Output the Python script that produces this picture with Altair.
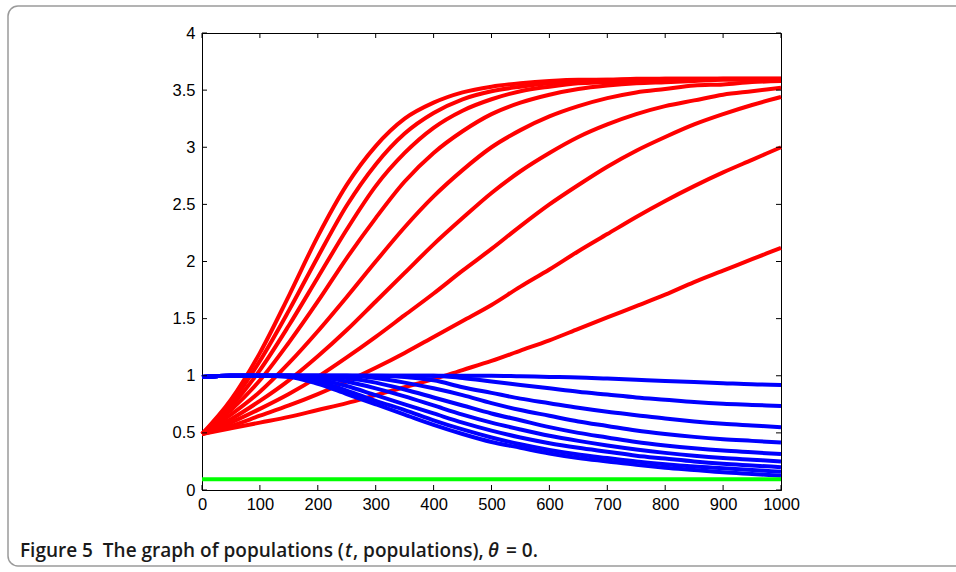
import altair as alt
import pandas as pd

# sample times
T = [0, 50, 100, 150, 200, 250, 300, 350, 400, 450, 500,
     550, 600, 650, 700, 750, 800, 850, 900, 950, 1000]

# red populations
RED = {
    "R1": [0.49, 0.79, 1.20, 1.70, 2.22, 2.67, 3.01, 3.25, 3.39, 3.48, 3.53, 3.56, 3.58, 3.59, 3.59, 3.60, 3.60, 3.60, 3.60, 3.60, 3.60],
    "R2": [0.49, 0.76, 1.13, 1.57, 2.04, 2.49, 2.85, 3.12, 3.30, 3.42, 3.49, 3.53, 3.56, 3.58, 3.59, 3.59, 3.60, 3.60, 3.60, 3.60, 3.60],
    "R3": [0.49, 0.73, 1.05, 1.44, 1.86, 2.28, 2.66, 2.95, 3.17, 3.32, 3.42, 3.49, 3.53, 3.56, 3.57, 3.58, 3.59, 3.59, 3.60, 3.60, 3.60],
    "R4": [0.49, 0.70, 0.96, 1.29, 1.65, 2.03, 2.38, 2.70, 2.95, 3.14, 3.29, 3.39, 3.46, 3.51, 3.54, 3.56, 3.57, 3.58, 3.59, 3.59, 3.59],
    "R5": [0.49, 0.66, 0.86, 1.11, 1.39, 1.69, 2.00, 2.30, 2.57, 2.80, 3.00, 3.15, 3.27, 3.36, 3.43, 3.48, 3.51, 3.54, 3.55, 3.57, 3.58],
    "R6": [0.49, 0.62, 0.78, 0.96, 1.17, 1.40, 1.65, 1.90, 2.15, 2.38, 2.60, 2.79, 2.95, 3.09, 3.20, 3.29, 3.36, 3.41, 3.46, 3.49, 3.52],
    "R7": [0.49, 0.59, 0.71, 0.84, 0.99, 1.16, 1.34, 1.53, 1.72, 1.92, 2.11, 2.31, 2.50, 2.67, 2.83, 2.97, 3.09, 3.20, 3.29, 3.37, 3.44],
    "R8": [0.49, 0.56, 0.65, 0.74, 0.84, 0.95, 1.07, 1.20, 1.34, 1.48, 1.62, 1.78, 1.93, 2.09, 2.24, 2.39, 2.53, 2.66, 2.78, 2.89, 3.00],
    "R9": [0.49, 0.54, 0.59, 0.64, 0.70, 0.76, 0.83, 0.90, 0.97, 1.05, 1.13, 1.22, 1.31, 1.41, 1.51, 1.61, 1.71, 1.82, 1.92, 2.02, 2.12],
}

# blue populations
BLUE = {
    "B1": [0.99, 1.00, 1.00, 0.99, 0.93, 0.84, 0.75, 0.66, 0.57, 0.49, 0.42, 0.37, 0.32, 0.28, 0.25, 0.22, 0.195, 0.175, 0.155, 0.14, 0.125],
    "B2": [0.99, 1.00, 1.00, 1.00, 0.95, 0.87, 0.78, 0.70, 0.61, 0.53, 0.46, 0.40, 0.35, 0.31, 0.28, 0.25, 0.225, 0.205, 0.19, 0.175, 0.16],
    "B3": [0.99, 1.00, 1.00, 1.00, 0.97, 0.91, 0.83, 0.75, 0.67, 0.59, 0.52, 0.46, 0.41, 0.37, 0.335, 0.30, 0.275, 0.25, 0.23, 0.215, 0.20],
    "B4": [0.99, 1.00, 1.00, 1.00, 0.99, 0.95, 0.89, 0.82, 0.74, 0.66, 0.59, 0.53, 0.475, 0.43, 0.39, 0.355, 0.325, 0.30, 0.28, 0.265, 0.25],
    "B5": [0.99, 1.00, 1.00, 1.00, 1.00, 0.98, 0.94, 0.88, 0.81, 0.74, 0.67, 0.61, 0.55, 0.50, 0.46, 0.42, 0.39, 0.365, 0.345, 0.33, 0.315],
    "B6": [0.99, 1.00, 1.00, 1.00, 1.00, 1.00, 0.98, 0.94, 0.89, 0.83, 0.76, 0.70, 0.65, 0.60, 0.56, 0.52, 0.49, 0.465, 0.445, 0.43, 0.415],
    "B7": [0.99, 1.00, 1.00, 1.00, 1.00, 1.00, 1.00, 0.99, 0.96, 0.90, 0.85, 0.80, 0.76, 0.72, 0.685, 0.655, 0.625, 0.60, 0.58, 0.565, 0.55],
    "B8": [0.99, 1.00, 1.00, 1.00, 1.00, 1.00, 1.00, 1.00, 1.00, 0.98, 0.95, 0.92, 0.89, 0.86, 0.835, 0.81, 0.79, 0.77, 0.755, 0.745, 0.735],
    "B9": [0.99, 1.00, 1.00, 1.00, 1.00, 1.00, 1.00, 1.00, 1.00, 1.00, 1.00, 0.995, 0.99, 0.985, 0.975, 0.965, 0.955, 0.945, 0.935, 0.925, 0.92],
}

# green population
GREEN = [0.095] * len(T)

X_TICKS = [0, 100, 200, 300, 400, 500, 600, 700, 800, 900, 1000]
Y_TICKS = [0, 0.5, 1, 1.5, 2, 2.5, 3, 3.5, 4]

NB = "\u00a0"
CAPTION = ["Figure 5" + NB + NB + "The graph of populations (", "t", ", populations)," + NB, "θ", "=" + NB + "0."]

W, H = 579, 457


def long_df(d):
    rows = []
    for name, vals in d.items():
        for t, v in zip(T, vals):
            rows.append({"t": t, "v": v, "s": name})
    return pd.DataFrame(rows)


red_df = long_df(RED)
blue_df = long_df(BLUE)
green_df = long_df({"G": GREEN})

xscale = alt.Scale(domain=[0, 1000], nice=False)
yscale = alt.Scale(domain=[0, 4], nice=False)

axis_common = dict(
    title=None, grid=False, ticks=False, labelFont="Liberation Sans",
    labelFontSize=16.5, labelColor="black", domainColor="black", domainWidth=1,
    labelExpr="datum.value + ''",
)

X = alt.X("t:Q", scale=xscale, axis=alt.Axis(values=X_TICKS, labelFlush=False, labelPadding=6, **axis_common))
Y = alt.Y("v:Q", scale=yscale, axis=alt.Axis(values=Y_TICKS, labelPadding=7, **axis_common))


def lines(df, color):
    return alt.Chart(df).mark_line(color=color, strokeWidth=4, interpolate="monotone").encode(
        x=X, y=Y, detail="s:N"
    )


red = lines(red_df, "#ff0000")
blue = lines(blue_df, "#0000ff")
green = lines(green_df, "#00ff00")

xt_df = pd.DataFrame({"t": X_TICKS})
yt_df = pd.DataFrame({"v": Y_TICKS})
tick_bottom = alt.Chart(xt_df).mark_rule(color="black", strokeWidth=1).encode(x=X, y=alt.value(H), y2=alt.value(H - 5))
tick_top = alt.Chart(xt_df).mark_rule(color="black", strokeWidth=1).encode(x=X, y=alt.value(0), y2=alt.value(5))
tick_left = alt.Chart(yt_df).mark_rule(color="black", strokeWidth=1).encode(y=Y, x=alt.value(0), x2=alt.value(5))
tick_right = alt.Chart(yt_df).mark_rule(color="black", strokeWidth=1).encode(y=Y, x=alt.value(W), x2=alt.value(W - 5))

one = pd.DataFrame({"a": [0]})
cap_layers = []
seg_x = [-182, 143, 151, 286, 304]
for i, txt in enumerate(CAPTION):
    italic = txt in ("t", "θ")
    cap_layers.append(
        alt.Chart(one).mark_text(
            text=txt, align="left", baseline="alphabetic", font="Open Sans",
            fontSize=19, fontWeight=600, fontStyle="italic" if italic else "normal",
            color="#1a1a1a",
        ).encode(x=alt.value(seg_x[i]), y=alt.value(524))
    )

frame = alt.Chart(one).mark_rect(
    fillOpacity=0, stroke="#9a9a9a", strokeWidth=1.5, cornerRadius=10
).encode(x=alt.value(-194), x2=alt.value(770), y=alt.value(-27), y2=alt.value(533))

chart = alt.layer(
    red, blue, green, tick_bottom, tick_top, tick_left, tick_right, frame, *cap_layers
).properties(
    width=W, height=H,
    autosize=alt.AutoSizeParams(type="none"),
    padding={"left": 202, "top": 33, "right": 175, "bottom": 82},
).configure_view(stroke="black", strokeWidth=1)

chart.save("out.html", embed_options={"renderer": "svg", "actions": False})
